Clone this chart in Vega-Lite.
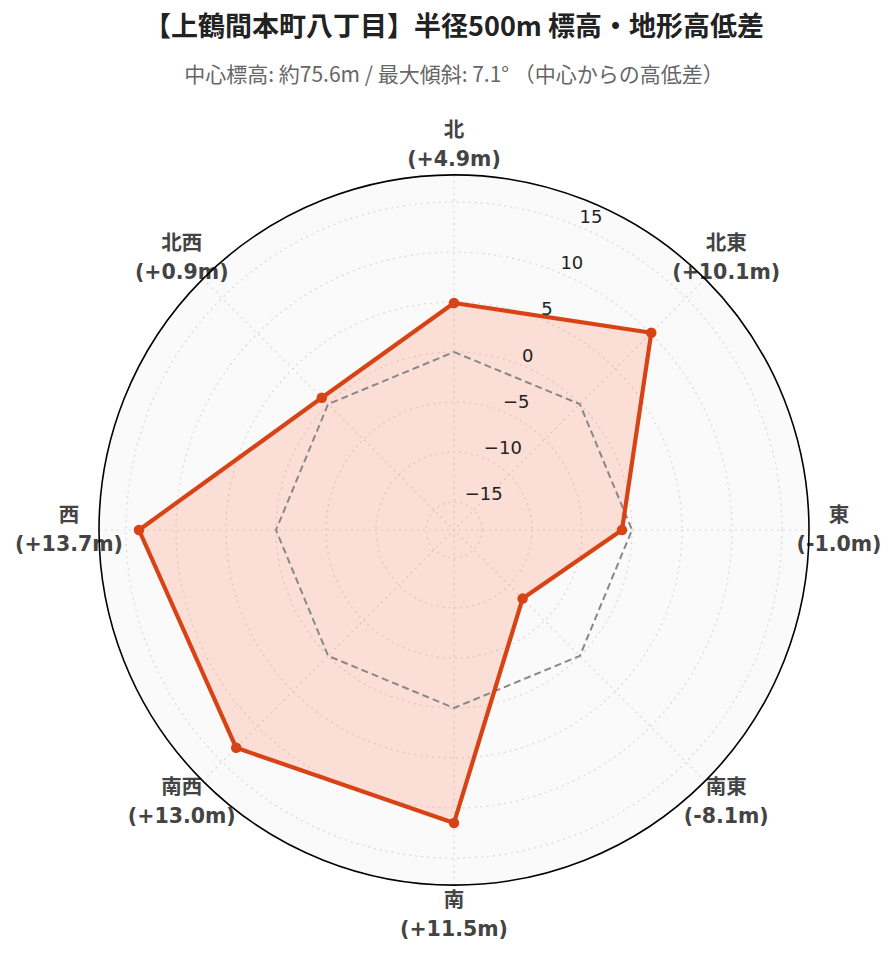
{
  "$schema": "https://vega.github.io/schema/vega-lite/v6.json",
  "width": 710,
  "height": 710,
  "autosize": {"type": "none"},
  "padding": {"left": 99, "top": 175, "right": 87, "bottom": 77},
  "background": "white",
  "config": {"view": {"stroke": null}},
  "title": {
    "text": "【上鶴間本町八丁目】半径500m 標高・地形高低差",
    "subtitle": "中心標高: 約75.6m / 最大傾斜: 7.1° （中心からの高低差）",
    "anchor": "middle",
    "frame": "group",
    "font": "Noto Sans CJK JP",
    "fontSize": 27,
    "fontWeight": "bold",
    "color": "#222222",
    "subtitleFont": "Noto Sans CJK JP",
    "subtitleFontSize": 21,
    "subtitleColor": "#666666",
    "subtitlePadding": 23,
    "offset": 34
  },
  "datasets": {
    "dirs": [
      {"dir": "北", "bearing": 0, "diff": 4.9},
      {"dir": "北東", "bearing": 45, "diff": 10.1},
      {"dir": "東", "bearing": 90, "diff": -1.0},
      {"dir": "南東", "bearing": 135, "diff": -8.1},
      {"dir": "南", "bearing": 180, "diff": 11.5},
      {"dir": "南西", "bearing": 225, "diff": 13.0},
      {"dir": "西", "bearing": 270, "diff": 13.7},
      {"dir": "北西", "bearing": 315, "diff": 0.9}
    ],
    "rings": [
      {"tick": -15}, {"tick": -10}, {"tick": -5}, {"tick": 0}, {"tick": 5}, {"tick": 10}, {"tick": 15}
    ],
    "outer": [{"tick": 17.7}]
  },
  "layer": [
    {
      "data": {"name": "outer"},
      "transform": [{"calculate": "datum.tick + 17.8", "as": "rr"}],
      "mark": {"type": "point", "shape": "circle", "filled": true, "color": "#fafafa", "opacity": 1, "strokeWidth": 0},
      "encoding": {
        "x": {"datum": 0, "type": "quantitative", "scale": {"domain": [-35.5, 35.5], "nice": false, "zero": false}, "axis": null},
        "y": {"datum": 0, "type": "quantitative", "scale": {"domain": [-35.5, 35.5], "nice": false, "zero": false}, "axis": null},
        "size": {"field": "rr", "type": "quantitative", "scale": {"type": "pow", "exponent": 2, "domain": [0, 35.5], "range": [0, 504100]}, "legend": null}
      }
    },
    {
      "data": {"name": "rings"},
      "transform": [{"calculate": "datum.tick + 17.8", "as": "rr"}],
      "mark": {"type": "point", "shape": "circle", "filled": false, "fill": null, "stroke": "#d9d9d9", "opacity": 1, "strokeWidth": 1.2, "strokeDash": [2, 4]},
      "encoding": {
        "x": {"datum": 0, "type": "quantitative", "scale": {"domain": [-35.5, 35.5], "nice": false, "zero": false}, "axis": null},
        "y": {"datum": 0, "type": "quantitative", "scale": {"domain": [-35.5, 35.5], "nice": false, "zero": false}, "axis": null},
        "size": {"field": "rr", "type": "quantitative", "scale": {"type": "pow", "exponent": 2, "domain": [0, 35.5], "range": [0, 504100]}, "legend": null}
      }
    },
    {
      "data": {"name": "dirs"},
      "transform": [
        {"filter": "datum.bearing < 180"},
        {"calculate": "35.5 * sin(datum.bearing * PI / 180)", "as": "sx"},
        {"calculate": "35.5 * cos(datum.bearing * PI / 180)", "as": "sy"},
        {"calculate": "-datum.sx", "as": "nx"},
        {"calculate": "-datum.sy", "as": "ny"}
      ],
      "mark": {"type": "rule", "stroke": "#d9d9d9", "strokeWidth": 1.2, "strokeDash": [2, 4]},
      "encoding": {
        "x": {"field": "sx", "type": "quantitative", "scale": {"domain": [-35.5, 35.5], "nice": false, "zero": false}, "axis": null},
        "y": {"field": "sy", "type": "quantitative", "scale": {"domain": [-35.5, 35.5], "nice": false, "zero": false}, "axis": null},
        "x2": {"field": "nx"},
        "y2": {"field": "ny"}
      }
    },
    {
      "data": {"name": "dirs"},
      "transform": [
        {"calculate": "38.5 * sin(datum.bearing * PI / 180)", "as": "lx"},
        {"calculate": "38.5 * cos(datum.bearing * PI / 180)", "as": "ly"},
        {"calculate": "datum.dir + '\\n(' + (datum.diff >= 0 ? '+' : '') + replace(format(datum.diff, '.1f'), '−', '-') + 'm)'", "as": "lbl"}
      ],
      "mark": {"type": "text", "align": "center", "baseline": "middle", "dy": -14, "lineBreak": "\n", "lineHeight": 29, "font": "DejaVu Sans, Noto Sans CJK JP", "fontSize": 20.5, "fontWeight": "bold", "color": "#444444"},
      "encoding": {
        "x": {"field": "lx", "type": "quantitative", "scale": {"domain": [-35.5, 35.5], "nice": false, "zero": false}, "axis": null},
        "y": {"field": "ly", "type": "quantitative", "scale": {"domain": [-35.5, 35.5], "nice": false, "zero": false}, "axis": null},
        "text": {"field": "lbl", "type": "nominal"}
      }
    },
    {
      "data": {"name": "outer"},
      "transform": [{"calculate": "datum.tick + 17.8", "as": "rr"}],
      "mark": {"type": "point", "shape": "circle", "filled": false, "fill": null, "stroke": "#000000", "opacity": 1, "strokeWidth": 1.6},
      "encoding": {
        "x": {"datum": 0, "type": "quantitative", "scale": {"domain": [-35.5, 35.5], "nice": false, "zero": false}, "axis": null},
        "y": {"datum": 0, "type": "quantitative", "scale": {"domain": [-35.5, 35.5], "nice": false, "zero": false}, "axis": null},
        "size": {"field": "rr", "type": "quantitative", "scale": {"type": "pow", "exponent": 2, "domain": [0, 35.5], "range": [0, 504100]}, "legend": null}
      }
    },
    {
      "data": {"name": "dirs"},
      "transform": [
        {"calculate": "(datum.diff + 17.8) * sin(datum.bearing * PI / 180)", "as": "px"},
        {"calculate": "(datum.diff + 17.8) * cos(datum.bearing * PI / 180)", "as": "py"}
      ],
      "mark": {"type": "line", "interpolate": "linear-closed", "fill": "#ff7043", "fillOpacity": 0.2, "stroke": null, "strokeWidth": 0},
      "encoding": {
        "x": {"field": "px", "type": "quantitative", "scale": {"domain": [-35.5, 35.5], "nice": false, "zero": false}, "axis": null},
        "y": {"field": "py", "type": "quantitative", "scale": {"domain": [-35.5, 35.5], "nice": false, "zero": false}, "axis": null},
        "order": {"field": "bearing", "type": "quantitative"}
      }
    },
    {
      "data": {"name": "dirs"},
      "transform": [
        {"calculate": "17.8 * sin(datum.bearing * PI / 180)", "as": "zx"},
        {"calculate": "17.8 * cos(datum.bearing * PI / 180)", "as": "zy"}
      ],
      "mark": {"type": "line", "interpolate": "linear-closed", "stroke": "#888888", "strokeWidth": 2, "strokeDash": [7, 4]},
      "encoding": {
        "x": {"field": "zx", "type": "quantitative", "scale": {"domain": [-35.5, 35.5], "nice": false, "zero": false}, "axis": null},
        "y": {"field": "zy", "type": "quantitative", "scale": {"domain": [-35.5, 35.5], "nice": false, "zero": false}, "axis": null},
        "order": {"field": "bearing", "type": "quantitative"}
      }
    },
    {
      "data": {"name": "dirs"},
      "transform": [
        {"calculate": "(datum.diff + 17.8) * sin(datum.bearing * PI / 180)", "as": "px"},
        {"calculate": "(datum.diff + 17.8) * cos(datum.bearing * PI / 180)", "as": "py"}
      ],
      "mark": {"type": "line", "interpolate": "linear-closed", "stroke": "#d84315", "strokeWidth": 4.2, "strokeJoin": "round"},
      "encoding": {
        "x": {"field": "px", "type": "quantitative", "scale": {"domain": [-35.5, 35.5], "nice": false, "zero": false}, "axis": null},
        "y": {"field": "py", "type": "quantitative", "scale": {"domain": [-35.5, 35.5], "nice": false, "zero": false}, "axis": null},
        "order": {"field": "bearing", "type": "quantitative"}
      }
    },
    {
      "data": {"name": "dirs"},
      "transform": [
        {"calculate": "(datum.diff + 17.8) * sin(datum.bearing * PI / 180)", "as": "px"},
        {"calculate": "(datum.diff + 17.8) * cos(datum.bearing * PI / 180)", "as": "py"}
      ],
      "mark": {"type": "point", "filled": true, "shape": "circle", "size": 110, "color": "#d84315", "opacity": 1},
      "encoding": {
        "x": {"field": "px", "type": "quantitative", "scale": {"domain": [-35.5, 35.5], "nice": false, "zero": false}, "axis": null},
        "y": {"field": "py", "type": "quantitative", "scale": {"domain": [-35.5, 35.5], "nice": false, "zero": false}, "axis": null}
      }
    },
    {
      "data": {"name": "rings"},
      "transform": [
        {"calculate": "(datum.tick + 17.8) * sin(22.5 * PI / 180)", "as": "tx"},
        {"calculate": "(datum.tick + 17.8) * cos(22.5 * PI / 180)", "as": "ty"}
      ],
      "mark": {"type": "text", "align": "left", "baseline": "middle", "dy": -9, "font": "DejaVu Sans", "fontSize": 18, "color": "#222222"},
      "encoding": {
        "x": {"field": "tx", "type": "quantitative", "scale": {"domain": [-35.5, 35.5], "nice": false, "zero": false}, "axis": null},
        "y": {"field": "ty", "type": "quantitative", "scale": {"domain": [-35.5, 35.5], "nice": false, "zero": false}, "axis": null},
        "text": {"field": "tick", "type": "quantitative", "format": "d"}
      }
    }
  ]
}
